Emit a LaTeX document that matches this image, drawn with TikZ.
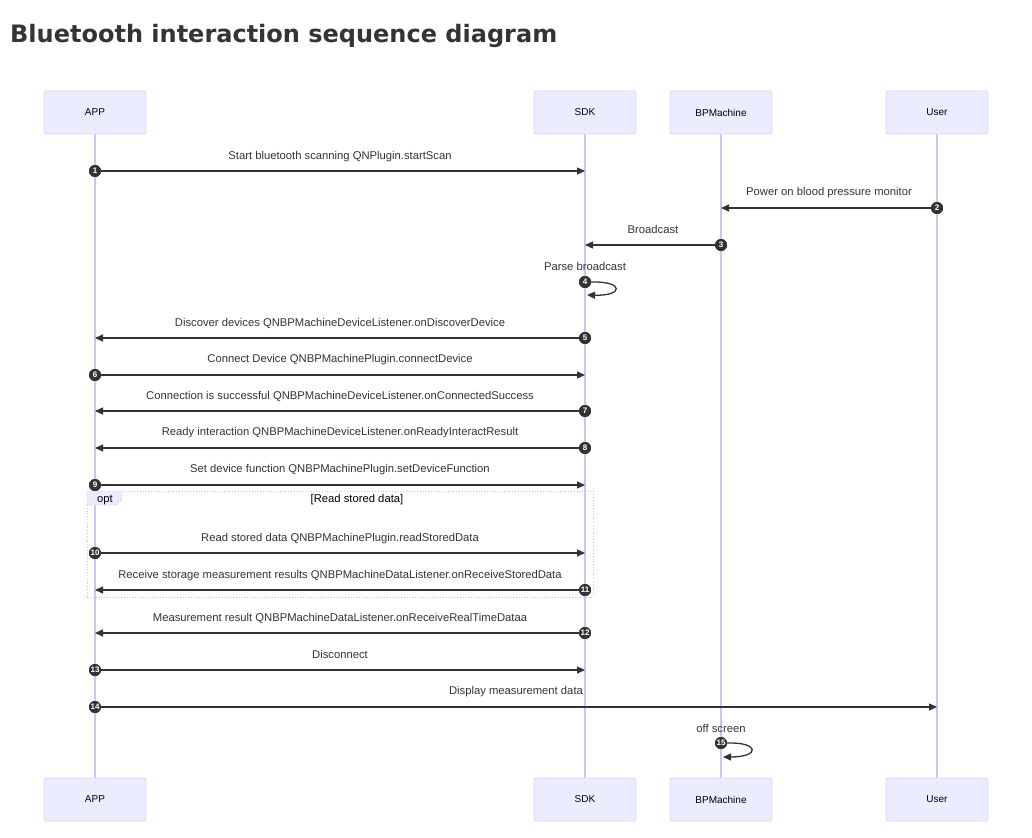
\documentclass[tikz,border=0pt]{standalone}
\usepackage{fontspec}
\setmainfont{Liberation Sans}
\newfontfamily\titlefont{DejaVu Sans}
\usetikzlibrary{arrows.meta}
\definecolor{actorfill}{HTML}{ECECFF}
\definecolor{actorstroke}{HTML}{DAD4FA}
\definecolor{lifec}{HTML}{CEC4F4}
\definecolor{msgc}{HTML}{333333}
\definecolor{titlec}{HTML}{333338}
\definecolor{optc}{HTML}{C4BDE6}
\tikzset{
  actor/.style={draw=actorstroke, fill=actorfill, minimum width=102pt, minimum height=43pt, rounded corners=2pt, font=\fontsize{10}{12}\selectfont, inner sep=0pt, line width=0.8pt},
  lifeline/.style={draw=lifec, line width=1.05pt},
  msg/.style={draw=msgc, line width=1.3pt, -{Triangle[length=8pt,width=7pt]}},
  num/.style={circle, fill=msgc, text=white, inner sep=0pt, minimum size=12pt, font=\fontsize{8}{8}\selectfont\bfseries},
  lbl/.style={font=\fontsize{11.25}{13}\selectfont, text=msgc, inner sep=0pt},
  optbox/.style={draw=optc, line width=0.8pt, dotted}
}
\begin{document}
\begin{tikzpicture}[x=1pt,y=-1pt]
\useasboundingbox (0,0) rectangle (1032,837);
% title
\node[anchor=west, inner sep=0pt, text=titlec, font=\titlefont\bfseries\fontsize{24}{29}\selectfont] (title) at (10,36) {Bluetooth interaction sequence diagram};
% actors
\node[actor] (appT) at (95,112.5) {APP};
\node[actor] (sdkT) at (585,112.5) {SDK};
\node[actor] (bpT) at (721,112.5) {BPMachine};
\node[actor] (userT) at (937,112.5) {User};
\node[actor] (appB) at (95,799.5) {APP};
\node[actor] (sdkB) at (585,799.5) {SDK};
\node[actor] (bpB) at (721,799.5) {BPMachine};
\node[actor] (userB) at (937,799.5) {User};
% lifelines
\draw[lifeline] (appT.south) -- (appB.north);
\draw[lifeline] (sdkT.south) -- (sdkB.north);
\draw[lifeline] (bpT.south) -- (bpB.north);
\draw[lifeline] (userT.south) -- (userB.north);
% opt box
\draw[optbox] (87,491) rectangle (593,597);
\draw[optbox, fill=actorfill] (87,491) -- (122,491) -- (122,499) -- (116,505) -- (87,505) -- cycle;
\node[lbl, text=black] (optl) at (105,500) {opt};
\node[lbl, text=black] (optc) at (357,500) {[Read stored data]};
% message end coordinates
\coordinate (e1) at (585,171);
\coordinate (e2) at (721,208);
\coordinate (e3) at (585,245);
\coordinate (e4) at (587,295);
\coordinate (e5) at (95,338);
\coordinate (e6) at (585,375);
\coordinate (e7) at (95,411);
\coordinate (e8) at (95,448);
\coordinate (e9) at (585,485);
\coordinate (e10) at (585,553);
\coordinate (e11) at (95,590);
\coordinate (e12) at (95,633);
\coordinate (e13) at (585,670);
\coordinate (e14) at (937,707);
\coordinate (e15) at (723,757);
% number nodes
\node[num] (n1) at (95,171) {1};
\node[num] (n2) at (937,208) {2};
\node[num] (n3) at (721,245) {3};
\node[num] (n4) at (585,282) {4};
\node[num] (n5) at (585,338) {5};
\node[num] (n6) at (95,375) {6};
\node[num] (n7) at (585,411) {7};
\node[num] (n8) at (585,448) {8};
\node[num] (n9) at (95,485) {9};
\node[num] (n10) at (95,553) {10};
\node[num] (n11) at (585,590) {11};
\node[num] (n12) at (585,633) {12};
\node[num] (n13) at (95,670) {13};
\node[num] (n14) at (95,707) {14};
\node[num] (n15) at (721,743) {15};
% messages
\draw[msg] (n1) -- (e1);
\draw[msg] (n2) -- (e2);
\draw[msg] (n3) -- (e3);
\draw[msg] (n4.east) .. controls (624,281) and (624,296) .. (e4);
\draw[msg] (n5) -- (e5);
\draw[msg] (n6) -- (e6);
\draw[msg] (n7) -- (e7);
\draw[msg] (n8) -- (e8);
\draw[msg] (n9) -- (e9);
\draw[msg] (n10) -- (e10);
\draw[msg] (n11) -- (e11);
\draw[msg] (n12) -- (e12);
\draw[msg] (n13) -- (e13);
\draw[msg] (n14) -- (e14);
\draw[msg] (n15.east) .. controls (760,742) and (760,757) .. (e15);
% labels
\node[lbl] (l1) at (340,156.5) {Start bluetooth scanning QNPlugin.startScan};
\node[lbl] (l2) at (829,192.5) {Power on blood pressure monitor};
\node[lbl] (l3) at (653,229.5) {Broadcast};
\node[lbl] (l4) at (585,266.5) {Parse broadcast};
\node[lbl] (l5) at (340,323.5) {Discover devices QNBPMachineDeviceListener.onDiscoverDevice};
\node[lbl] (l6) at (340,359.5) {Connect Device QNBPMachinePlugin.connectDevice};
\node[lbl] (l7) at (340,396.5) {Connection is successful QNBPMachineDeviceListener.onConnectedSuccess};
\node[lbl] (l8) at (340,432.5) {Ready interaction QNBPMachineDeviceListener.onReadyInteractResult};
\node[lbl] (l9) at (340,469.5) {Set device function QNBPMachinePlugin.setDeviceFunction};
\node[lbl] (l10) at (340,538.5) {Read stored data QNBPMachinePlugin.readStoredData};
\node[lbl] (l11) at (340,575.5) {Receive storage measurement results QNBPMachineDataListener.onReceiveStoredData};
\node[lbl] (l12) at (340,618.5) {Measurement result QNBPMachineDataListener.onReceiveRealTimeDataa};
\node[lbl] (l13) at (340,654.5) {Disconnect};
\node[lbl] (l14) at (516,691.5) {Display measurement data};
\node[lbl] (l15) at (721,728.5) {off screen};
% redraw number circles on top
\foreach \n/\t in {n1/1,n2/2,n3/3,n4/4,n5/5,n6/6,n7/7,n8/8,n9/9,n10/10,n11/11,n12/12,n13/13,n14/14,n15/15}
  \node[num] at (\n) {\t};
\end{tikzpicture}
\end{document}
